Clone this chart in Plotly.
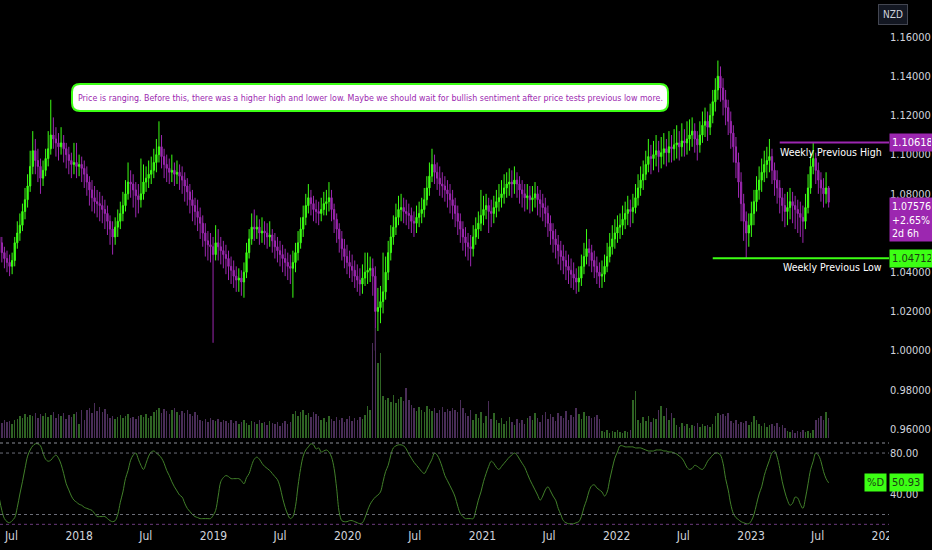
import pandas as pd
import plotly.graph_objs as go

# weekly AUDNZD-style candles, first bar opens the week of 2017-05-29
FIRST_WEEK = "2017-05-29"
FIRST_OPEN = 1.058

closes = [
    1.055, 1.050, 1.047, 1.045, 1.043, 1.046, 1.055, 1.060, 1.064, 1.071,
    1.077, 1.084, 1.094, 1.102, 1.097, 1.094, 1.088, 1.092, 1.098, 1.103,
    1.110, 1.108, 1.106, 1.104, 1.106, 1.103, 1.100, 1.097, 1.095, 1.096,
    1.094, 1.095, 1.093, 1.090, 1.086, 1.082, 1.078, 1.076, 1.075, 1.074,
    1.072, 1.070, 1.066, 1.062, 1.058, 1.063, 1.066, 1.070, 1.074, 1.080,
    1.086, 1.085, 1.082, 1.079, 1.077, 1.080, 1.086, 1.088, 1.090, 1.092,
    1.096, 1.100, 1.104, 1.099, 1.095, 1.093, 1.091, 1.092, 1.090, 1.091,
    1.089, 1.087, 1.084, 1.081, 1.077, 1.074, 1.071, 1.068, 1.065, 1.060,
    1.056, 1.054, 1.053, 1.049, 1.055, 1.053, 1.051, 1.049, 1.047, 1.043,
    1.041, 1.038, 1.036, 1.037, 1.035, 1.040, 1.050, 1.057, 1.063, 1.062,
    1.063, 1.060, 1.061, 1.060, 1.058, 1.059, 1.056, 1.053, 1.051, 1.049,
    1.047, 1.045, 1.043, 1.042, 1.045, 1.050, 1.055, 1.062, 1.068, 1.074,
    1.078, 1.075, 1.072, 1.071, 1.070, 1.072, 1.075, 1.076, 1.078, 1.072,
    1.067, 1.062, 1.057, 1.052, 1.048, 1.045, 1.043, 1.041, 1.038, 1.036,
    1.034, 1.037, 1.040, 1.041, 1.042, 1.038, 1.020, 1.022, 1.025, 1.030,
    1.040, 1.050, 1.058, 1.063, 1.068, 1.072, 1.073, 1.071, 1.070, 1.069,
    1.066, 1.065, 1.068, 1.070, 1.072, 1.077, 1.083, 1.089, 1.095, 1.091,
    1.088, 1.085, 1.084, 1.082, 1.080, 1.077, 1.074, 1.070, 1.066, 1.062,
    1.058, 1.055, 1.053, 1.052, 1.058, 1.062, 1.065, 1.069, 1.072, 1.074,
    1.071, 1.070, 1.073, 1.076, 1.078, 1.080, 1.083, 1.085, 1.086, 1.085,
    1.087, 1.085, 1.082, 1.080, 1.078, 1.079, 1.077, 1.078, 1.080, 1.077,
    1.075, 1.073, 1.070, 1.065, 1.061, 1.057, 1.054, 1.051, 1.048, 1.046,
    1.043, 1.041, 1.039, 1.037, 1.035, 1.037, 1.043, 1.048, 1.052, 1.050,
    1.046, 1.043, 1.040, 1.038, 1.039, 1.043, 1.048, 1.053, 1.057, 1.060,
    1.063, 1.064, 1.067, 1.070, 1.072, 1.071, 1.073, 1.078, 1.083, 1.087,
    1.090, 1.095, 1.099, 1.098, 1.100, 1.102, 1.099, 1.101, 1.103, 1.101,
    1.104, 1.103, 1.105, 1.106, 1.104, 1.107, 1.106, 1.108, 1.110, 1.112,
    1.108, 1.105, 1.110, 1.115, 1.117, 1.114, 1.120, 1.127, 1.133, 1.140,
    1.134, 1.128, 1.124, 1.117, 1.111, 1.104, 1.096, 1.086, 1.075, 1.066,
    1.060, 1.064, 1.070, 1.076, 1.082, 1.087, 1.091, 1.095, 1.097, 1.099,
    1.092, 1.087, 1.083, 1.078, 1.074, 1.071, 1.073, 1.076, 1.074, 1.072,
    1.070, 1.068, 1.066, 1.073, 1.083, 1.094, 1.098, 1.092, 1.087, 1.083,
    1.080, 1.083, 1.07576,
]

highs = [
    1.062, 1.058, 1.053, 1.051, 1.049, 1.050, 1.058, 1.066, 1.070, 1.075,
    1.083, 1.090, 1.102, 1.112, 1.108, 1.103, 1.098, 1.097, 1.103, 1.112,
    1.128, 1.119, 1.114, 1.111, 1.114, 1.110, 1.106, 1.104, 1.101, 1.106,
    1.106, 1.100, 1.099, 1.097, 1.094, 1.089, 1.087, 1.084, 1.082, 1.081,
    1.079, 1.077, 1.074, 1.069, 1.066, 1.068, 1.072, 1.076, 1.081, 1.087,
    1.096, 1.092, 1.090, 1.086, 1.085, 1.098, 1.095, 1.094, 1.097, 1.099,
    1.103, 1.108, 1.117, 1.110, 1.103, 1.100, 1.098, 1.100, 1.096, 1.097,
    1.095, 1.094, 1.091, 1.088, 1.085, 1.082, 1.078, 1.077, 1.073, 1.069,
    1.065, 1.061, 1.060, 1.058, 1.064, 1.062, 1.058, 1.056, 1.054, 1.051,
    1.048, 1.046, 1.043, 1.042, 1.041, 1.045, 1.055, 1.062, 1.070, 1.072,
    1.069, 1.067, 1.068, 1.066, 1.065, 1.066, 1.062, 1.060, 1.058, 1.056,
    1.054, 1.052, 1.050, 1.049, 1.051, 1.055, 1.061, 1.068, 1.074, 1.080,
    1.085, 1.082, 1.079, 1.077, 1.076, 1.078, 1.081, 1.082, 1.086, 1.082,
    1.075, 1.070, 1.065, 1.061, 1.057, 1.054, 1.051, 1.049, 1.046, 1.044,
    1.042, 1.044, 1.050, 1.050, 1.048, 1.047, 1.043, 1.032, 1.033, 1.050,
    1.048, 1.056, 1.064, 1.069, 1.075, 1.079, 1.080, 1.078, 1.077, 1.075,
    1.073, 1.071, 1.074, 1.076, 1.078, 1.083, 1.089, 1.096, 1.103, 1.100,
    1.096, 1.094, 1.091, 1.089, 1.087, 1.085, 1.082, 1.078, 1.074, 1.070,
    1.066, 1.063, 1.060, 1.059, 1.064, 1.068, 1.071, 1.082, 1.079, 1.080,
    1.078, 1.077, 1.079, 1.082, 1.085, 1.087, 1.090, 1.091, 1.093, 1.092,
    1.094, 1.091, 1.089, 1.087, 1.085, 1.085, 1.084, 1.084, 1.086, 1.084,
    1.082, 1.080, 1.078, 1.074, 1.069, 1.065, 1.062, 1.059, 1.056, 1.054,
    1.051, 1.049, 1.047, 1.045, 1.042, 1.043, 1.049, 1.055, 1.062, 1.057,
    1.054, 1.051, 1.048, 1.045, 1.046, 1.049, 1.055, 1.060, 1.064, 1.067,
    1.069, 1.070, 1.074, 1.076, 1.079, 1.077, 1.080, 1.085, 1.090, 1.094,
    1.097, 1.102, 1.108, 1.105, 1.107, 1.110, 1.107, 1.109, 1.111, 1.108,
    1.112, 1.110, 1.113, 1.115, 1.112, 1.116, 1.113, 1.117, 1.118, 1.119,
    1.116, 1.112, 1.117, 1.122, 1.124, 1.122, 1.126, 1.133, 1.139, 1.148,
    1.145, 1.139, 1.133, 1.128, 1.122, 1.115, 1.109, 1.101, 1.091, 1.080,
    1.071, 1.070, 1.076, 1.082, 1.089, 1.094, 1.098, 1.102, 1.104, 1.108,
    1.103, 1.096, 1.092, 1.087, 1.083, 1.080, 1.081, 1.083, 1.081, 1.079,
    1.077, 1.076, 1.074, 1.080, 1.090, 1.101, 1.106, 1.101, 1.096, 1.091,
    1.088, 1.091, 1.084,
]

lows = [
    1.050, 1.045, 1.042, 1.040, 1.038, 1.039, 1.043, 1.052, 1.056, 1.061,
    1.067, 1.073, 1.081, 1.090, 1.090, 1.086, 1.080, 1.084, 1.089, 1.094,
    1.100, 1.103, 1.099, 1.097, 1.100, 1.096, 1.093, 1.090, 1.088, 1.090,
    1.088, 1.089, 1.086, 1.083, 1.079, 1.074, 1.071, 1.070, 1.068, 1.066,
    1.065, 1.062, 1.059, 1.054, 1.049, 1.054, 1.058, 1.062, 1.066, 1.071,
    1.077, 1.078, 1.073, 1.068, 1.070, 1.073, 1.077, 1.081, 1.083, 1.085,
    1.088, 1.091, 1.096, 1.093, 1.088, 1.086, 1.085, 1.086, 1.084, 1.085,
    1.082, 1.080, 1.076, 1.074, 1.070, 1.066, 1.064, 1.061, 1.057, 1.053,
    1.048, 1.046, 1.045, 1.004, 1.046, 1.046, 1.044, 1.042, 1.039, 1.036,
    1.034, 1.032, 1.030, 1.030, 1.028, 1.027, 1.037, 1.047, 1.054, 1.056,
    1.057, 1.054, 1.055, 1.054, 1.052, 1.053, 1.050, 1.047, 1.045, 1.043,
    1.040, 1.038, 1.036, 1.034, 1.027, 1.040, 1.046, 1.052, 1.058, 1.064,
    1.070, 1.069, 1.066, 1.065, 1.064, 1.066, 1.069, 1.069, 1.071, 1.066,
    1.060, 1.055, 1.050, 1.046, 1.042, 1.039, 1.037, 1.035, 1.032, 1.030,
    1.028, 1.029, 1.033, 1.034, 1.035, 1.028, 1.000, 1.010, 1.014, 1.019,
    1.026, 1.036, 1.046, 1.054, 1.059, 1.064, 1.066, 1.065, 1.064, 1.062,
    1.060, 1.058, 1.060, 1.063, 1.065, 1.068, 1.074, 1.079, 1.086, 1.085,
    1.082, 1.079, 1.078, 1.076, 1.073, 1.070, 1.067, 1.063, 1.059, 1.055,
    1.051, 1.048, 1.046, 1.043, 1.048, 1.054, 1.057, 1.061, 1.064, 1.067,
    1.060, 1.063, 1.065, 1.068, 1.071, 1.073, 1.075, 1.078, 1.079, 1.078,
    1.080, 1.078, 1.075, 1.073, 1.071, 1.072, 1.070, 1.071, 1.073, 1.069,
    1.068, 1.066, 1.063, 1.058, 1.054, 1.050, 1.047, 1.044, 1.041, 1.039,
    1.036, 1.034, 1.032, 1.031, 1.029, 1.030, 1.033, 1.039, 1.044, 1.043,
    1.040, 1.037, 1.034, 1.032, 1.032, 1.035, 1.040, 1.045, 1.049, 1.052,
    1.055, 1.057, 1.059, 1.062, 1.064, 1.063, 1.065, 1.070, 1.074, 1.079,
    1.082, 1.087, 1.091, 1.090, 1.092, 1.094, 1.091, 1.093, 1.095, 1.094,
    1.096, 1.096, 1.097, 1.098, 1.097, 1.099, 1.099, 1.100, 1.102, 1.104,
    1.101, 1.097, 1.101, 1.106, 1.109, 1.107, 1.110, 1.116, 1.122, 1.128,
    1.127, 1.120, 1.115, 1.110, 1.103, 1.096, 1.088, 1.078, 1.066, 1.056,
    1.047, 1.053, 1.058, 1.064, 1.071, 1.077, 1.081, 1.086, 1.088, 1.091,
    1.085, 1.079, 1.075, 1.070, 1.066, 1.063, 1.064, 1.067, 1.065, 1.062,
    1.060, 1.058, 1.055, 1.062, 1.070, 1.080, 1.090, 1.085, 1.080, 1.076,
    1.073, 1.075, 1.073,
]

volumes = [
    17, 15, 18, 16, 17, 14, 18, 19,
    22, 20, 24, 21, 23, 22, 25,
    20, 24, 22, 25, 21, 23, 26, 20, 24, 22, 25, 19, 23, 21, 24,
    26, 14, 28, 18,
    28, 30, 25, 35, 27, 31, 26, 29, 24,
    20, 22, 19, 21, 23, 20, 22, 24, 20, 21, 19, 22,
    23, 21, 24, 20, 22,
    26, 28, 30, 25, 29, 27, 24, 28, 30, 26, 23, 27, 25, 28, 24, 22, 26, 23,
    18, 17, 19, 16, 20, 18, 17, 19, 16, 18, 17, 15, 18,
    15, 17, 14, 16, 18, 15, 13, 17, 16, 14, 18, 15, 16, 13, 17, 15, 14, 16, 12, 15, 17, 14, 16,
    24, 27, 22, 26, 28, 23, 25, 21, 26, 24, 22,
    18, 20, 16, 22, 19, 17, 21, 18, 20, 16, 19, 22, 17, 20, 18, 21, 19, 23,
    32, 28, 95, 110, 75, 85,
    42, 38, 40, 36, 43, 35, 39, 41, 37, 50, 38, 33,
    30, 27, 31, 28, 26, 32, 29, 27, 30, 25, 28, 31, 26, 29, 27, 30, 28, 26,
    38,
    30, 25, 22, 28, 18, 24, 20, 26, 15, 22, 37, 19, 25,
    18, 15, 20, 14, 17, 21, 16, 13, 19, 15, 18, 14, 20,
    22, 18, 25, 20, 16, 23, 26, 19, 24, 21, 17, 25, 22, 20, 27, 18, 23, 21, 30, 24, 19, 26, 22,
    22, 20, 21, 23, 19,
    7, 6, 8, 5, 7, 6, 8, 6, 5, 7, 6,
    8, 38, 47,
    18, 15, 21, 17, 22, 16, 20,
    19, 28, 32, 22, 30, 18, 25, 20,
    13, 11, 15, 12, 14, 10, 13, 12, 15, 11, 14, 12, 13, 11,
    14, 22, 25, 23, 24, 22, 25,
    17, 15, 18, 14, 16, 15, 17, 13, 16, 22,
    18, 14, 12, 15, 11, 13, 14, 12, 15, 11,
    13, 10, 7, 6, 8, 5, 7, 6, 8, 6, 7, 5,
    8, 18, 20, 22, 18, 26, 20,
]

stoch_d = [
    36, 24, 16, 13, 12, 14, 17, 27, 40, 52,
    65, 77, 83, 87, 89, 89, 87, 80, 74, 72,
    73, 76, 78, 75, 69, 60, 50, 44, 38, 34,
    32, 30, 29, 27, 26, 25, 24, 21, 18, 18,
    18, 18, 16, 14, 13, 14, 20, 32, 42, 55,
    63, 73, 78, 80, 74, 68, 64, 70, 77, 81,
    82, 80, 78, 75, 70, 63, 58, 52, 47, 43,
    39, 37, 31, 26, 23, 20, 18, 17, 16, 16,
    16, 16, 16, 19, 24, 38, 52, 56, 58, 57,
    55, 55, 55, 55, 53, 50, 56, 60, 68, 74,
    76, 74, 70, 67, 65, 63, 60, 57, 54, 47,
    36, 27, 20, 16, 18, 28, 48, 65, 77, 83,
    86, 89, 88, 84, 85, 81, 82, 83, 81, 76,
    65, 45, 22, 14, 13, 13, 14, 14, 13, 12,
    11, 12, 17, 24, 30, 34, 37, 39, 42, 52,
    62, 68, 78, 85, 87, 88, 88, 87, 84, 79,
    75, 71, 68, 65, 62, 60, 64, 69, 74, 80,
    78, 73, 66, 58, 53, 48, 43, 37, 28, 21,
    18, 16, 16, 16, 16, 24, 34, 42, 52, 60,
    67, 72, 70, 66, 64, 67, 70, 73, 76, 78,
    80, 78, 74, 70, 66, 60, 54, 49, 44, 39,
    34, 38, 44, 47, 43, 38, 34, 26, 20, 14,
    12, 11, 11, 11, 12, 13, 18, 27, 34, 43,
    48, 49, 46, 44, 42, 38, 42, 54, 65, 75,
    81, 87, 87, 86, 86, 86, 86, 85, 85, 85,
    84, 83, 82, 82, 82, 83, 83, 83, 82, 82,
    81, 81, 80, 79, 77, 75, 71, 66, 64, 65,
    68, 67, 65, 64, 67, 72, 75, 78, 80, 80,
    78, 70, 55, 44, 30, 21, 17, 15, 13, 12,
    11, 11, 14, 20, 30, 40, 47, 58, 66, 73,
    80, 82, 76, 65, 52, 42, 34, 29, 31, 37,
    36, 30, 26, 36, 50, 64, 72, 80, 78, 72,
    62, 55, 50.93,
]

price_ticks = [0.96, 0.98, 1.00, 1.02, 1.04, 1.06, 1.08, 1.10, 1.12, 1.14, 1.16]
stoch_ticks = [40, 80]
time_ticks = ["2017-07-01", "2018-01-01", "2018-07-01", "2019-01-01", "2019-07-01",
              "2020-01-01", "2020-07-01", "2021-01-01", "2021-07-01", "2022-01-01",
              "2022-07-01", "2023-01-01", "2023-07-01", "2024-01-01"]
time_labels = ["Jul", "2018", "Jul", "2019", "Jul", "2020", "Jul", "2021", "Jul",
               "2022", "Jul", "2023", "Jul", "2024"]

PREV_HIGH = 1.10618
PREV_HIGH_FROM = "2023-03-20"
PREV_LOW = 1.04712
PREV_LOW_FROM = "2022-09-19"
LAST_CHANGE = "+2.65%"
COUNTDOWN = "2d 6h"
NOTE = ("Price is ranging. Before this, there was a higher high and lower low. "
        "Maybe we should wait for bullish sentiment after price tests previous low more.")

GREEN = "#3cff14"
PURPLE = "#9c27b0"
TEXT = "#d1d4dc"
FONT = "DejaVu Sans Condensed, Liberation Sans Narrow, sans-serif"

# plot area in pixels (932x550 page, 43px price scale on the right, 23px time scale)
W, H = 889, 527
X_RANGE = ["2017-05-31", "2024-01-11"]


def px(x):
    return x / W


def py(y):
    return 1 - y / H


def rounded_box(x0, y0, x1, y1, r):
    """SVG path of a rounded rectangle given in pixels, returned in paper coords."""
    rx, ry = r / W, r / H
    a, b, c, d = px(x0), py(y1), px(x1), py(y0)
    return (f"M {a + rx},{b} L {c - rx},{b} Q {c},{b} {c},{b + ry} "
            f"L {c},{d - ry} Q {c},{d} {c - rx},{d} L {a + rx},{d} "
            f"Q {a},{d} {a},{d - ry} L {a},{b + ry} Q {a},{b} {a + rx},{b} Z")


def price_label(y, text, bg, fg, yref="y", yanchor="middle", x=1.0, width=39, size=11):
    return dict(x=x, xref="paper", y=y, yref=yref, xanchor="left", yanchor=yanchor,
                text=text, showarrow=False, align="left", bgcolor=bg, borderpad=2,
                width=width, font=dict(family=FONT, size=size, color=fg))


def build_figure():
    dates = pd.date_range(FIRST_WEEK, periods=len(closes), freq="W-MON")
    opens = [FIRST_OPEN] + closes[:-1]
    vol_colors = ["#2f6424" if c >= o else "#4a2d58" for o, c in zip(opens, closes)]

    fig = go.Figure()
    fig.add_trace(go.Bar(
        x=dates, y=volumes, yaxis="y3", marker=dict(color=vol_colors, line=dict(width=0)),
        width=1.3 * 86400000, hoverinfo="skip", showlegend=False))
    fig.add_trace(go.Candlestick(
        x=dates, open=opens, high=highs, low=lows, close=closes,
        increasing=dict(line=dict(color=GREEN, width=1), fillcolor=GREEN),
        decreasing=dict(line=dict(color=PURPLE, width=1), fillcolor=PURPLE),
        whiskerwidth=0, hoverinfo="skip", showlegend=False))
    fig.add_trace(go.Scatter(
        x=dates, y=stoch_d, yaxis="y2", mode="lines", line=dict(color="#42802a", width=1, shape="spline"),
        hoverinfo="skip", showlegend=False))

    shapes = [
        # stochastic bands
        dict(type="line", xref="paper", yref="paper", x0=0, x1=1, y0=py(443), y1=py(443),
             line=dict(color="#8a8d96", width=1, dash="dot")),
        dict(type="line", xref="paper", yref="y2", x0=0, x1=1, y0=80, y1=80,
             line=dict(color="#6b6e78", width=1, dash="dot")),
        dict(type="line", xref="paper", yref="y2", x0=0, x1=1, y0=20, y1=20,
             line=dict(color="#6b6e78", width=1, dash="dot")),
        dict(type="line", xref="paper", yref="y2", x0=0, x1=1, y0=10.4, y1=10.4,
             line=dict(color="#6a3a7c", width=1, dash="dot")),
        # weekly previous high / low
        dict(type="line", xref="x", yref="y", x0=PREV_HIGH_FROM, x1=X_RANGE[1], y0=PREV_HIGH, y1=PREV_HIGH,
             line=dict(color=PURPLE, width=2)),
        dict(type="line", xref="x", yref="y", x0=PREV_LOW_FROM, x1=X_RANGE[1], y0=PREV_LOW, y1=PREV_LOW,
             line=dict(color=GREEN, width=2)),
        # note box
        dict(type="path", xref="paper", yref="paper", path=rounded_box(72, 84, 668, 111, 8),
             fillcolor="white", line=dict(color=GREEN, width=2), layer="above"),
        # the time scale is clipped where the price scale starts
        dict(type="rect", xref="paper", yref="paper", x0=1.0, x1=932 / W, y0=py(550), y1=py(528),
             fillcolor="black", line=dict(width=0), layer="above"),
    ]

    annotations = [
        dict(x=px(370), xref="paper", y=py(97.5), yref="paper", yanchor="middle", text=NOTE, showarrow=False,
             font=dict(family=FONT, size=8.8, color=PURPLE)),
        dict(x=px(884), xref="paper", y=PREV_HIGH, yref="y", xanchor="right", yanchor="top", yshift=-1,
             text="Weekly Previous High", showarrow=False, font=dict(family=FONT, size=10.5, color="white")),
        dict(x=px(884), xref="paper", y=PREV_LOW, yref="y", xanchor="right", yanchor="top", yshift=-1,
             text="Weekly Previous Low", showarrow=False, font=dict(family=FONT, size=10.5, color="white")),
        dict(x=px(908), xref="paper", y=py(15), yref="paper", yanchor="middle", text="NZD", showarrow=False,
             bgcolor="#131722", bordercolor="#434651", borderwidth=1, borderpad=4,
             font=dict(family=FONT, size=10, color=TEXT)),
        price_label(PREV_HIGH, f"{PREV_HIGH:.5f}", PURPLE, "white"),
        price_label(PREV_LOW, f"{PREV_LOW:.5f}", GREEN, "#1b3d12"),
        price_label(py(197), f"{closes[-1]:.5f}<br>{LAST_CHANGE}<br>{COUNTDOWN}", PURPLE, "white",
                    yref="paper", yanchor="top", size=10.5),
        price_label(stoch_d[-1], f"{stoch_d[-1]:.2f}", GREEN, "#1b3d12", yref="y2", width=29),
        dict(x=px(887), xref="paper", y=stoch_d[-1], yref="y2", xanchor="right", text="%D",
             showarrow=False, bgcolor=GREEN, borderpad=2, font=dict(family=FONT, size=11, color="#1b3d12")),
    ]

    fig.update_layout(
        width=932, height=550,
        margin=dict(l=0, r=43, t=0, b=23),
        paper_bgcolor="black", plot_bgcolor="black",
        font=dict(family=FONT, size=11, color=TEXT),
        showlegend=False, bargap=0,
        xaxis=dict(type="date", range=X_RANGE, anchor="y2", tickvals=time_ticks, ticktext=time_labels,
                   showgrid=False, zeroline=False, showline=False, ticks="",
                   tickfont=dict(family=FONT, size=12, color=TEXT), rangeslider=dict(visible=False)),
        yaxis=dict(domain=[py(440), 1], range=[0.9544, 1.1789], side="right",
                   tickvals=price_ticks, ticktext=[f"{v:.5f}" for v in price_ticks],
                   showgrid=False, zeroline=False, ticks="", tickfont=dict(family=FONT, size=11, color=TEXT)),
        yaxis2=dict(domain=[0, py(443)], range=[7.8, 89.8], side="right",
                    tickvals=stoch_ticks, ticktext=[f"{v:.2f}" for v in stoch_ticks],
                    showgrid=False, zeroline=False, ticks="", tickfont=dict(family=FONT, size=11, color=TEXT)),
        yaxis3=dict(overlaying="y", range=[-2, 438], visible=False),
        shapes=shapes,
        annotations=annotations,
    )
    return fig


def main():
    fig = build_figure()
    # the page body keeps its default 8px margin otherwise
    fig.write_html("out.html", config={"displayModeBar": False},
                   post_script="document.body.style.margin='0';"
                               "document.body.style.background='black';")


if __name__ == "__main__":
    main()
